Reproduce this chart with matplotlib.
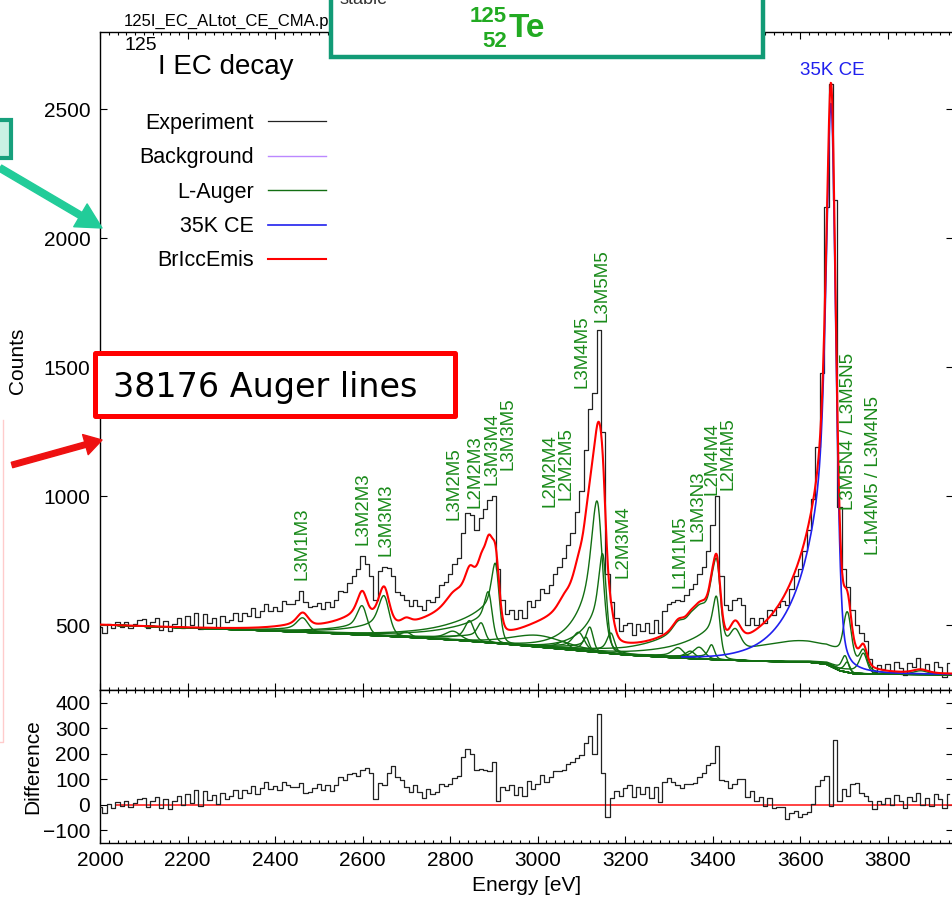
import math
import numpy as np
import matplotlib
matplotlib.use("Agg")
import matplotlib.pyplot as plt
from matplotlib.patches import Rectangle
from matplotlib.lines import Line2D
from matplotlib.ticker import MultipleLocator, NullLocator

plt.rcParams['font.family'] = ['Liberation Sans', 'DejaVu Sans']

W, H = 952, 901  # output size in pixels

# measured spectrum, 10 eV bins
energy = np.arange(2000, 3950, 10)
counts = np.array([
    495, 470, 505, 490, 512, 495, 515, 492, 505, 520,
    525, 490, 512, 528, 484, 517, 478, 507, 530, 492,
    536, 500, 550, 485, 545, 509, 528, 492, 537, 512,
    523, 550, 517, 550, 538, 566, 534, 557, 585, 558,
    572, 557, 593, 585, 583, 600, 635, 590, 570, 575,
    588, 565, 590, 570, 600, 635, 630, 665, 690, 720,
    770, 740, 690, 600, 710, 728, 722, 690, 630, 620,
    600, 575, 600, 575, 560, 600, 590, 610, 655, 670,
    700, 740, 760, 860, 935, 930, 870, 915, 950, 985,
    1000, 720, 600, 545, 560, 525, 560, 530, 595, 570,
    600, 640, 625, 655, 700, 725, 760, 810, 860, 940,
    1020, 1180, 1340, 1400, 1645, 1250, 700, 590, 530, 480,
    500, 510, 465, 505, 478, 510, 470, 520, 470, 555,
    585, 590, 600, 595, 620, 640, 660, 700, 725, 790,
    890, 1000, 690, 580, 560, 600, 605, 580, 500, 530,
    500, 530, 510, 560, 540, 570, 595, 580, 640, 690,
    720, 790, 870, 990, 1190, 1480, 2120, 2600, 2150, 960,
    720, 650, 560, 500, 470, 440, 370, 320, 345, 330,
    350, 320, 360, 335, 310, 355, 340, 375, 330, 350,
    315, 360, 340, 300, 355])

# background under the lines
bg_energy = [2000, 2300, 2500, 2600, 2700, 2800, 2900, 3000, 3100, 3200,
             3300, 3400, 3500, 3620, 3660, 3690, 3720, 3800, 3950]
bg_counts = [503, 485, 472, 463, 455, 445, 432, 417, 402, 386,
             376, 368, 362, 358, 350, 325, 314, 311, 310]

# 35K conversion electron line
ce_energy = 3672
ce_height = 1740
ce_fwhm = 25
ce_tail = 0.55
ce_tail_len = 62

# L-Auger line groups
aug_energy = [2464, 2600, 2650, 2700, 2808, 2845, 2872, 2889, 2905, 3000,
              3060, 3095, 3111, 3120, 3138, 3150, 3168,
              3322, 3350, 3370, 3398, 3410, 3414, 3452, 3500, 3600,
              3703, 3708, 3712, 3745, 3875]
aug_height = [47, 92, 127, 18, 30, 70, 60, 140, 220, 45,
              25, 60, 48, 80, 420, 280, 70,
              35, 25, 40, 50, 175, 70, 75, 30, 60,
              55, 35, 110, 70, 14]
aug_fwhm = [30, 26, 28, 25, 40, 24, 20, 20, 20, 150,
            30, 30, 16, 18, 28, 20, 20,
            30, 25, 30, 16, 18, 22, 30, 150, 160,
            16, 14, 20, 20, 40]
aug_tail = [0.4, 0.5, 0.5, 0.3, 0.3, 0.3, 0.5, 0.8, 0.8, 0,
            0.4, 0.4, 0.3, 0.4, 0.9, 0.8, 0.3,
            0.3, 0.3, 0.3, 0.3, 0.8, 0.8, 0.3, 0, 0,
            0.3, 0.3, 0.3, 0.3, 0]
aug_tail_len = [70, 80, 80, 60, 80, 60, 90, 100, 100, 80,
                70, 70, 60, 60, 45, 45, 60,
                100, 100, 80, 80, 90, 90, 80, 80, 80,
                60, 60, 60, 60, 60]
aug_curve = list(range(17)) + [17] * 13 + [18]
aug_solo = [False] * 17 + [True, True, True, True, True, False, False, False, False,
                           True, True, False, True] + [False]

label_text = ['L3M1M3', 'L3M2M3', 'L3M3M3', 'L3M2M5', 'L2M2M3', 'L3M3M4', 'L3M3M5',
              'L2M2M4', 'L2M2M5', 'L3M4M5', 'L3M5M5', 'L2M3M4', 'L1M1M5', 'L3M3N3',
              'L2M4M4', 'L2M4M5', 'L3M5N4 / L3M5N5', 'L1M4M5 / L3M4N5']
label_energy = [2462, 2601, 2654, 2808, 2857, 2895, 2933, 3028, 3066, 3101, 3147,
                3196, 3325, 3367, 3398, 3436, 3710, 3767]
label_counts = [676, 812, 769, 909, 955, 1045, 1103, 960, 986, 1419, 1677,
                683, 644, 826, 1006, 1025, 948, 773]

erfc = np.vectorize(math.erfc)


def line_shape(e, pos, height, fwhm, tail, tail_len, eta=0.4):
    d = e - pos
    sig = fwhm / 2.3548
    core = (1 - eta) * np.exp(-0.5 * (d / sig) ** 2) + eta / (1 + (2 * d / fwhm) ** 2)
    emg = np.exp(d / tail_len + 0.5 * (sig / tail_len) ** 2) * 0.5 * erfc((d / sig + sig / tail_len) / np.sqrt(2))
    return height * (core + tail * emg)


def components(e):
    bg = np.interp(e, bg_energy, bg_counts)
    ce = line_shape(e, ce_energy, ce_height, ce_fwhm, ce_tail, ce_tail_len)
    aug = [line_shape(e, aug_energy[i], aug_height[i], aug_fwhm[i], aug_tail[i], aug_tail_len[i])
           for i in range(len(aug_energy))]
    return bg, ce, aug


e = np.linspace(2000, 3950, 1951)
bg, ce, aug = components(e)
fit = bg + ce + np.sum(aug, axis=0)

bg_b, ce_b, aug_b = components(energy.astype(float))
diff = counts - (bg_b + ce_b + np.sum(aug_b, axis=0))

fig = plt.figure(figsize=(W / 100, H / 100), dpi=100)
ax = fig.add_axes([100 / W, 1 - 690 / H, 853.3 / W, 658 / H])
axd = fig.add_axes([100 / W, 1 - 843 / H, 853.3 / W, 153 / H])

green = '#126e12'
h_exp, = ax.step(energy, counts, where='mid', color='#222222', lw=0.9, label='Experiment', zorder=2)
h_bg, = ax.plot(e, bg, color='#bb88ff', lw=1.0, label='Background', zorder=3)
h_aug = None
for k in range(max(aug_curve) + 1):
    part = np.sum([aug[i] for i in range(len(aug)) if aug_curve[i] == k], axis=0)
    line, = ax.plot(e, bg + part, color=green, lw=1.0, zorder=4)
    if h_aug is None:
        h_aug = line
for i in range(len(aug)):
    if aug_solo[i]:
        ax.plot(e, bg + aug[i], color=green, lw=1.0, zorder=4)
h_aug.set_label('L-Auger')
show = e >= 3330
h_ce, = ax.plot(e[show], (bg + ce)[show], color='#2020ee', lw=1.2, label='35K CE', zorder=5)
h_fit, = ax.plot(e, fit, color='#ff0000', lw=1.5, label='BrIccEmis', zorder=6)

for t, x, y in zip(label_text, label_energy, label_counts):
    ax.text(x, y, t, rotation=90, ha='center', va='bottom', color='#1a8a1a', fontsize=13.5, zorder=7)

axd.hlines(0, 2035, 3950, color='#ff2222', lw=1.2, zorder=2)
axd.step(energy, diff, where='mid', color='#222222', lw=0.9, zorder=3)

ax.set_xlim(2000, 3950)
ax.set_ylim(250, 2800)
axd.set_xlim(2000, 3950)
axd.set_ylim(-150, 450)

for a in (ax, axd):
    a.tick_params(which='both', direction='in', top=True, right=True, width=0.8, labelsize=15)
    a.tick_params(which='major', length=5)
    a.tick_params(which='minor', length=2.5)
    a.tick_params(axis='y', pad=7)
    a.tick_params(axis='x', pad=6)
    a.xaxis.set_major_locator(MultipleLocator(200))
    a.xaxis.set_minor_locator(MultipleLocator(20))
    a.yaxis.set_minor_locator(NullLocator())
    for s in a.spines.values():
        s.set_linewidth(1.0)
ax.tick_params(labelbottom=False)
ax.set_yticks(range(500, 2501, 500))
axd.set_yticks(range(-100, 401, 100))

ax.set_ylabel('Counts', fontsize=15)
ax.yaxis.set_label_coords(-0.0855, 0.5)
axd.set_ylabel('Difference', fontsize=15)
axd.yaxis.set_label_coords(-0.068, 0.5)
axd.set_xlabel('Energy [eV]', fontsize=15)
axd.xaxis.set_label_coords(0.5, -0.215)

ax.legend([h_exp, h_bg, h_aug, h_ce, h_fit], ['Experiment', 'Background', 'L-Auger', '35K CE', 'BrIccEmis'],
          loc='upper right', bbox_to_anchor=(326 / W, 1 - 113 / H), bbox_transform=fig.transFigure,
          markerfirst=False, frameon=False, fontsize=15.5, handlelength=2.7, handletextpad=0.65,
          labelspacing=0.62, borderpad=0, borderaxespad=0)


def fx(x, y):
    return x / W, 1 - y / H


# titles and notes
fig.text(*fx(124, 26), '125I_EC_ALtot_CE_CMA.plt', fontsize=12, va='baseline', zorder=1)
fig.text(*fx(124, 50), '125', fontsize=14, va='baseline')
fig.text(*fx(158, 74), 'I EC decay', fontsize=20, va='baseline')
fig.text(*fx(832, 75), '35K CE', fontsize=13.5, va='baseline', ha='center', color='#2020ee')

# decay box at the top
fig.add_artist(Rectangle(fx(330.5, 57), (763 - 330.5) / W, 80 / H, transform=fig.transFigure,
                         facecolor='white', edgecolor='#129b76', lw=3.2, zorder=5))
fig.text(*fx(340, 4), 'stable', fontsize=13, va='baseline', color='#333333', zorder=6)
fig.text(*fx(507, 22), '125', fontsize=16, fontweight='bold', ha='right', va='baseline', color='#22aa22', zorder=6)
fig.text(*fx(507, 47), '52', fontsize=16, fontweight='bold', ha='right', va='baseline', color='#22aa22', zorder=6)
fig.text(*fx(509, 37), 'Te', fontsize=24, fontweight='bold', va='baseline', color='#22aa22', zorder=6)

# note box
fig.add_artist(Rectangle(fx(95, 415.5), 360 / W, 63 / H, transform=fig.transFigure,
                         facecolor='white', edgecolor='#ff0000', lw=3.6, joinstyle='round', zorder=5))
fig.text(*fx(113, 397), '38176 Auger lines', fontsize=24, va='baseline', family='DejaVu Sans', zorder=6)

# side box
fig.add_artist(Rectangle(fx(-20, 158), 31 / W, 38 / H, transform=fig.transFigure,
                         facecolor='#c9f1e3', edgecolor='#17a07c', lw=3.0, zorder=5))
fig.add_artist(Line2D([3 / W, 3 / W, 0], [1 - 420 / H, 1 - 742 / H, 1 - 742 / H],
                      transform=fig.transFigure, color='#ffcccc', lw=1.0, zorder=5))

ax.annotate('', xy=(102, H - 440), xycoords='figure pixels', xytext=(12, H - 465), textcoords='figure pixels',
            arrowprops=dict(arrowstyle='simple,head_length=0.62,head_width=0.75,tail_width=0.2',
                            mutation_scale=20, color='#ee1111', shrinkA=0, shrinkB=0), annotation_clip=False)
ax.annotate('', xy=(102, H - 228), xycoords='figure pixels', xytext=(0, H - 168), textcoords='figure pixels',
            arrowprops=dict(arrowstyle='simple,head_length=0.9,head_width=0.95,tail_width=0.24',
                            mutation_scale=20, color='#22cc99', shrinkA=0, shrinkB=0), annotation_clip=False)

fig.savefig('out.png', dpi=100)
